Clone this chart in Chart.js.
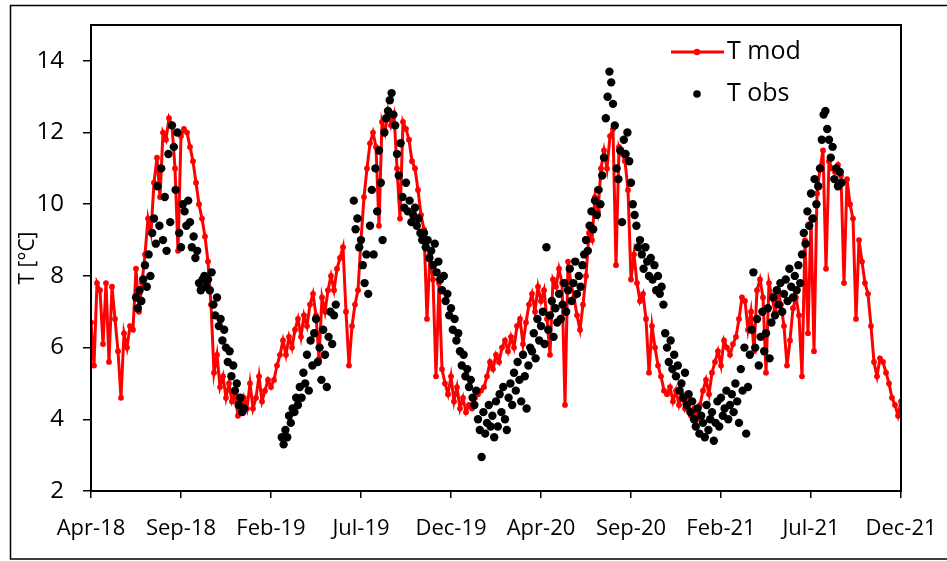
<!DOCTYPE html>
<html>
<head>
<meta charset="utf-8">
<script src="https://cdn.jsdelivr.net/npm/chart.js@4.4.1/dist/chart.umd.min.js"></script>
<style>
  html, body { margin: 0; padding: 0; background: #fff; }
  #wrap { width: 947px; height: 561px; }
</style>
</head>
<body>
<div id="wrap"><canvas id="chart" width="947" height="561"></canvas></div>
<script>
// x axis: days since the first day of the axis (Apr-18), one tick every 150 days
const tickLabels = ['Apr-18', 'Sep-18', 'Feb-19', 'Jul-19', 'Dec-19', 'Apr-20', 'Sep-20', 'Feb-21', 'Jul-21', 'Dec-21'];
const tickStepDays = 150;

// T mod, one value every 5 days from day 0
const modStepDays = 5;
const modValues = [
  6.7, 5.5, 7.8, 7.6, 6.1, 7.8, 5.6, 7.7, 6.8, 5.9,
  4.6, 6.4, 6.0, 6.6, 6.5, 8.2, 7.0, 7.8, 8.6, 9.6,
  9.2, 10.6, 11.3, 10.2, 12.0, 11.8, 12.4, 12.2, 11.0, 8.7,
  11.9, 12.1, 12.0, 11.6, 11.2, 10.6, 10.0, 9.6, 9.1, 8.4,
  7.2, 5.3, 5.8, 4.9, 5.2, 4.6, 5.0, 4.5, 4.7, 4.1,
  4.2, 4.6, 4.3, 5.0, 4.3, 4.6, 5.2, 4.5, 4.8, 5.1,
  4.9, 5.1, 5.5, 5.8, 6.2, 5.8, 6.3, 6.0, 6.5, 6.8,
  6.3, 6.9, 6.6, 7.2, 7.5, 6.9, 5.7, 7.4, 7.0, 7.6,
  8.0, 7.6, 8.2, 8.5, 8.8, 7.0, 5.5, 6.6, 7.2, 7.6,
  9.0, 10.2, 11.0, 11.7, 12.0, 11.6, 9.4, 12.3, 12.0, 12.6,
  12.2, 12.5, 11.0, 9.6, 12.3, 12.1, 11.8, 11.2, 11.0, 10.4,
  9.7, 9.3, 6.8, 8.6, 7.9, 5.2, 7.8, 5.4, 5.0, 4.7,
  5.2, 4.5, 4.9, 4.3, 4.6, 4.2, 4.4, 4.3, 4.6, 4.7,
  4.8, 4.9, 5.2, 5.6, 5.4, 5.8, 5.6, 6.0, 6.2, 5.9,
  6.3, 6.0, 6.6, 6.8, 6.1, 6.7, 7.2, 7.5, 7.0, 7.7,
  7.3, 7.6, 6.8, 5.8, 7.9, 7.7, 8.2, 7.8, 4.4, 8.4,
  7.8, 7.4, 6.9, 6.5, 7.2, 8.0, 9.2, 9.0, 10.2, 9.8,
  11.0, 11.5, 11.0, 11.9, 12.1, 8.3, 11.6, 11.4, 11.2, 10.4,
  7.9, 8.6, 7.8, 7.3, 7.5, 6.8, 5.3, 6.6, 6.0, 5.5,
  5.2, 4.8, 4.7, 4.9, 4.5, 4.8, 4.4, 4.7, 4.3, 4.5,
  4.1, 4.3, 4.0, 4.4, 4.8, 5.1, 4.7, 5.3, 5.6, 5.9,
  5.5, 6.2, 6.0, 5.8, 6.1, 6.3, 6.8, 7.4, 7.3, 6.5,
  7.0, 5.9, 7.6, 7.9, 7.4, 5.3, 7.8, 7.4, 7.0, 7.6,
  7.2, 6.6, 5.5, 6.2, 7.1, 7.4, 6.9, 5.2, 9.0, 6.4,
  9.6, 5.9, 10.3, 11.0, 11.5, 8.2, 11.2, 11.0, 10.9, 11.1,
  10.8, 7.8, 10.7, 10.0, 9.6, 6.8, 9.0, 8.4, 7.8, 7.5,
  6.6, 5.6, 5.2, 5.7, 5.6, 5.3, 5.0, 4.6, 4.4, 4.1, 4.5
];

// T obs, one value every 3 days from day 75 (null = no measurement)
const obsStartDay = 75;
const obsStepDays = 3;
const obsValues = [
  7.4, 7.1, 7.6, 7.3, 7.9, 8.3, 7.7, 8.6, 8.0, 9.2,
  9.6, 8.9, 10.5, 9.4, 11.0, 9.0, 10.2, 8.7, 11.4, 9.5,
  12.2, 11.6, 10.4, 12.0, 9.2, 8.8, 10.0, 9.8, 9.4, 10.1,
  9.5, 8.8, 9.1, 8.5, 8.7, 7.8, 7.6, 7.9, 8.0, 7.7,
  7.9, 7.6, 8.1, 7.2, 6.9, 7.4, 6.6, 6.8, 6.2, 6.5,
  6.0, 5.6, 5.9, 5.2, 5.5, 4.8, 5.0, 4.4, 4.6, 4.2,
  4.3, null, null, null, null, null, null, null, null, null,
  null, null, null, null, null, null, null, null, null, null,
  null, 3.5, 3.3, 3.7, 3.5, 4.1, 3.9, 4.3, 4.2, 4.6,
  4.4, 4.9, 4.6, 5.3, 5.0, 5.8, 4.8, 6.2, 5.5, 6.4,
  6.8, 5.6, 6.0, 5.1, 6.5, 5.8, 4.9, 6.3, 7.0, 6.1,
  6.9, 7.2, null, null, null, null, null, null, null, null,
  null, 10.1, 9.3, 9.6, 8.8, 9.0, 8.3, 7.8, 8.6, 7.5,
  9.4, 10.4, 8.6, 11.0, 9.8, 11.5, 10.6, 9.0, 12.0, 12.4,
  12.6, 12.9, 13.1, 12.5, 12.2, 11.4, 10.8, 11.7, 10.2, 9.9,
  10.6, 9.8, 10.1, 9.5, 9.7, 9.9, 9.4, 9.6, 9.2, 9.0,
  9.2, 8.8, 9.0, 8.5, 8.7, 8.3, 8.9, 8.1, 8.4, 7.9,
  7.6, 8.0, 7.3, 7.5, 6.9, 7.1, 6.5, 6.8, 6.2, 6.4,
  5.9, 5.5, 5.8, 5.2, 5.4, 4.9, 5.1, 4.6, 4.4, 4.8,
  4.0, 3.7, 2.95, 4.2, 3.6, 3.9, 4.4, 3.8, 4.1, 3.5,
  4.5, 3.8, 4.7, 4.2, 4.9, 4.0, 3.7, 4.6, 5.0, 4.4,
  5.3, 4.8, 5.6, 5.1, 4.5, 5.8, 5.2, 4.3, 5.5, 6.0,
  5.9, 6.4, 5.7, 6.8, 6.2, 6.6, 7.0, 6.1, 8.8, 6.5,
  6.9, 7.3, 6.3, 7.1, 6.7, 7.5, 6.8, 7.2, 7.8, 7.0,
  7.6, 8.2, 7.3, 7.8, 8.4, 7.5, 8.0, 7.7, 8.3, 8.6,
  9.0, 8.7, 9.4, 9.8, 9.3, 10.1, 9.7, 10.4, 10.0, 10.8,
  11.3, 12.4, 13.0, 13.7, 13.4, 12.8, 12.2, 11.0, 10.7, 11.5,
  9.5, 11.8, 11.4, 12.0, 11.2, 10.6, 10.0, 9.7, 9.4, 8.8,
  9.0, 8.6, 8.2, 8.8, 8.4, 8.0, 8.5, 7.9, 8.3, 7.6,
  8.0, 7.5, 7.7, 7.2, 6.4, 6.0, 5.6, 6.2, 5.4, 5.8,
  5.2, 5.5, 4.8, 5.0, 4.6, 5.3, 4.4, 4.7, 4.2, 4.5,
  4.0, 3.8, 4.3, 3.6, 4.1, 3.9, 3.5, 4.4, 3.7, 4.0,
  4.2, 3.4, 3.9, 4.5, 3.8, 4.6, 4.1, 4.3, 4.8, 4.0,
  4.4, 4.7, 4.2, 5.0, 4.5, 3.9, 5.4, 4.8, 6.0, 3.6,
  4.9, 5.8, 6.5, 8.1, 6.0, 6.8, 5.5, 6.3, 7.0, 5.9,
  6.4, 7.1, 5.7, 6.7, 7.4, 6.9, 7.6, 7.2, 7.8, 7.0,
  7.5, 7.9, 7.3, 8.2, 7.7, 7.4, 8.0, 7.6, 8.3, 7.8,
  8.6, 9.2, 8.9, 9.8, 9.4, 10.3, 9.6, 10.7, 10.0, 10.5,
  11.0, 11.8, 12.5, 12.6, 12.1, 11.8, 11.3, 11.6, 10.7, 11.0,
  10.5, 10.9, 10.6
];

const seriesNames = ['T mod', 'T obs'];
const yTitle = 'T [°C]';

const fontFamily = "'Open Sans', 'Liberation Sans', sans-serif";

let modPoints = modValues.map(function(v, i){
    return {x: i * modStepDays, y: v};
});
let obsPoints = [];
obsValues.forEach(function(v, j){
    if (v !== null) obsPoints.push({x: obsStartDay + j * obsStepDays, y: v});
});

// keep the plot box where it is in the picture, whatever the label sizes
function fixScale(scale, key, size){
    scale[key] = size;
    scale.paddingLeft = 0;
    scale.paddingRight = 0;
    scale.paddingTop = 0;
    scale.paddingBottom = 0;
}

// outer frame, plot box and the legend drawn inside the plot
const framePlugin = {
    id: 'frame',
    beforeDraw(chart){
        let ctx = chart.ctx;
        ctx.save();
        ctx.fillStyle = '#fff';
        ctx.fillRect(0, 0, chart.width, chart.height);
        ctx.strokeStyle = '#000';
        ctx.lineWidth = 1.5;
        ctx.strokeRect(10.5, 5.5, 980, 553.5);
        ctx.restore();
    },
    afterDraw(chart){
        let ctx = chart.ctx;
        let a = chart.chartArea;
        ctx.save();
        ctx.strokeStyle = '#000';
        ctx.lineWidth = 2;
        ctx.strokeRect(a.left, a.top, a.right - a.left, a.bottom - a.top);

        let ds = chart.data.datasets;
        ctx.font = '25px ' + fontFamily;
        ctx.textBaseline = 'middle';
        ctx.fillStyle = '#000';
        // T mod: line with marker
        ctx.strokeStyle = ds[0].borderColor;
        ctx.lineWidth = 3;
        ctx.beginPath();
        ctx.moveTo(671, 52);
        ctx.lineTo(724, 52);
        ctx.stroke();
        ctx.fillStyle = ds[0].pointBackgroundColor;
        ctx.beginPath();
        ctx.arc(697, 52, 3.2, 0, Math.PI * 2);
        ctx.fill();
        ctx.fillStyle = '#000';
        ctx.fillText(ds[0].label, 727, 52);
        // T obs: marker only
        ctx.fillStyle = ds[1].pointBackgroundColor;
        ctx.beginPath();
        ctx.arc(697, 94, 3.8, 0, Math.PI * 2);
        ctx.fill();
        ctx.fillStyle = '#000';
        ctx.fillText(ds[1].label, 727, 94);
        ctx.restore();
    }
};

let ctx = document.getElementById('chart').getContext('2d');
let chart = new Chart(ctx, {
    type: 'scatter',
    data: {
        datasets: [{
            label: seriesNames[0],
            data: modPoints,
            showLine: true,
            borderColor: '#ff0000',
            borderWidth: 3,
            pointRadius: 2.9,
            pointBorderWidth: 0,
            pointBackgroundColor: '#ff0000',
            backgroundColor: '#ff0000',
            tension: 0,
            order: 2
        },
        {
            label: seriesNames[1],
            data: obsPoints,
            showLine: false,
            pointRadius: 4.2,
            pointBorderWidth: 0,
            pointBackgroundColor: '#000000',
            backgroundColor: '#000000',
            order: 1
        }]
    },
    options: {
        responsive: false,
        animation: false,
        devicePixelRatio: 1,
        layout: {
            padding: {left: 0, top: 25, right: 46, bottom: 0}
        },
        plugins: {
            legend: {display: false},
            tooltip: {enabled: false}
        },
        scales: {
            x: {
                type: 'linear',
                min: 0,
                max: tickStepDays * (tickLabels.length - 1),
                afterFit: function(scale){ fixScale(scale, 'height', 70); },
                grid: {drawOnChartArea: false, drawTicks: true, tickLength: 7, color: '#000', lineWidth: 1.5},
                border: {display: true, color: '#000', width: 2},
                ticks: {
                    stepSize: tickStepDays,
                    autoSkip: false,
                    maxRotation: 0,
                    padding: 18,
                    color: '#000',
                    font: {family: fontFamily, size: 22},
                    callback: function(value){
                        return tickLabels[Math.round(value / tickStepDays)];
                    }
                }
            },
            y: {
                min: 2,
                max: 15,
                afterFit: function(scale){ fixScale(scale, 'width', 91); },
                grid: {drawOnChartArea: false, drawTicks: true, tickLength: 8, color: '#000', lineWidth: 1.5},
                border: {display: true, color: '#000', width: 2},
                ticks: {
                    stepSize: 2,
                    includeBounds: false,
                    padding: 19,
                    color: '#000',
                    font: {family: fontFamily, size: 24}
                },
                title: {
                    display: true,
                    text: yTitle,
                    color: '#000',
                    font: {family: fontFamily, size: 21},
                    padding: {top: 15, bottom: 0}
                }
            }
        }
    },
    plugins: [framePlugin]
});
</script>
</body>
</html>
